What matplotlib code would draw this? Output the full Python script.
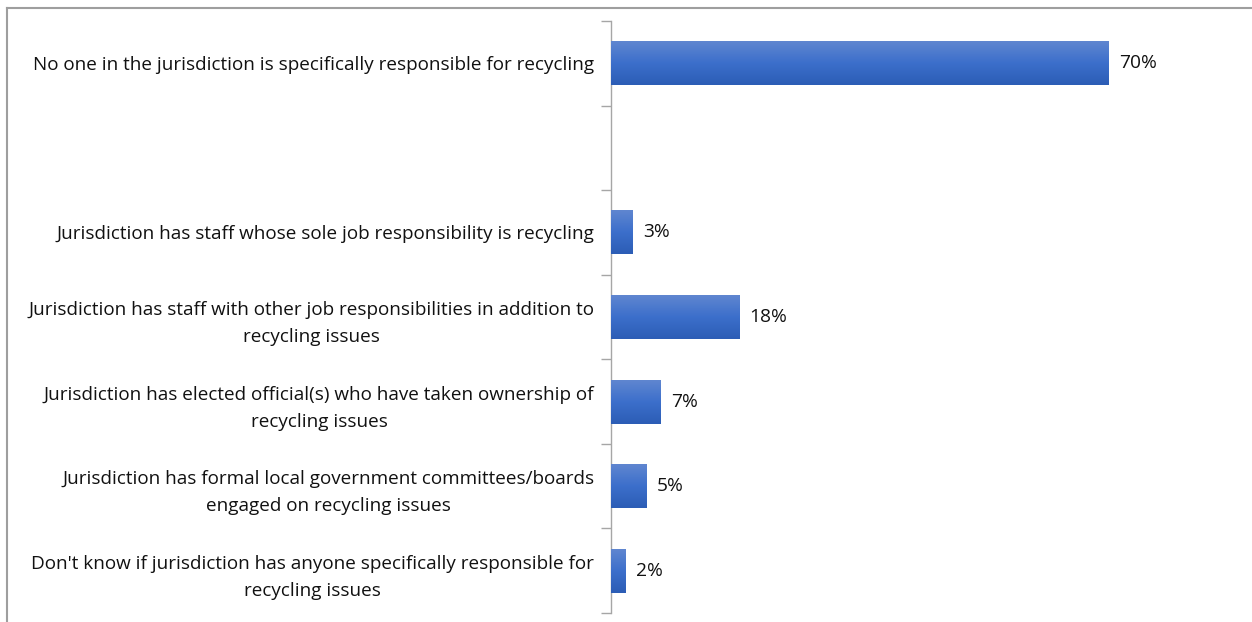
import matplotlib

matplotlib.use("Agg")
import matplotlib.pyplot as plt
import numpy as np
from matplotlib.colors import LinearSegmentedColormap
from matplotlib.lines import Line2D


CATEGORIES = [
    "No one in the jurisdiction is specifically responsible for recycling",
    "",
    "Jurisdiction has staff whose sole job responsibility is recycling",
    "Jurisdiction has staff with other job responsibilities in addition to\nrecycling issues",
    "Jurisdiction has elected official(s) who have taken ownership of\nrecycling issues",
    "Jurisdiction has formal local government committees/boards\nengaged on recycling issues",
    "Don't know if jurisdiction has anyone specifically responsible for\nrecycling issues",
]
VALUES = [70, None, 3, 18, 7, 5, 2]

BAR_GRADIENT = LinearSegmentedColormap.from_list(
    "bar_blue", ["#2C5DB5", "#3C6FCB", "#5F86D0"]
)
AXIS_GREY = "#A6A6A6"

plt.rcParams.update(
    {
        "font.family": ["Open Sans", "DejaVu Sans"],
        "font.size": 13.6,
    }
)

fig = plt.figure(figsize=(12.52, 6.22), dpi=100)
ax = fig.add_axes([0.488, 0.0145, 0.4545, 0.9517])

positions = np.arange(len(CATEGORIES))
bar_height = 0.52
for pos, value in zip(positions, VALUES):
    if value is None:
        continue
    bar = ax.barh(pos, value, height=bar_height, color="#3F6FC8", zorder=2)[0]
    # vertical shading across the bar, clipped to its rectangle
    x0, y0 = bar.get_x(), bar.get_y()
    grad = np.linspace(0, 1, 64).reshape(-1, 1)
    img = ax.imshow(
        grad,
        cmap=BAR_GRADIENT,
        aspect="auto",
        extent=(x0, x0 + bar.get_width(), y0 + bar.get_height(), y0),
        origin="lower",
        zorder=3,
    )
    img.set_clip_path(bar)
    ax.text(
        value + 1.5,
        pos,
        f"{value}%",
        va="center",
        ha="left",
        fontsize=13.8,
        color="#111111",
    )

ax.set_xlim(0, 80)
ax.set_ylim(len(CATEGORIES) - 0.5, -0.5)

ax.set_yticks(positions)
ax.set_yticklabels(CATEGORIES, multialignment="center", linespacing=1.65)
ax.tick_params(axis="y", which="major", length=0, pad=12, labelcolor="#111111")
ax.set_yticks(np.arange(len(CATEGORIES) + 1) - 0.5, minor=True)
ax.tick_params(axis="y", which="minor", length=7, width=1, color=AXIS_GREY)
ax.set_xticks([])

for side in ("top", "right", "bottom"):
    ax.spines[side].set_visible(False)
ax.spines["left"].set_color(AXIS_GREY)
ax.spines["left"].set_linewidth(1)

# outer frame lines along the top and left edges
fig.add_artist(Line2D([7 / 1252, 1], [1 - 8 / 622, 1 - 8 / 622], color="#9E9E9E", lw=1.5))
fig.add_artist(Line2D([7 / 1252, 7 / 1252], [0, 1 - 8 / 622], color="#9E9E9E", lw=1.5))

fig.savefig("out.png", dpi=100)
plt.close(fig)
